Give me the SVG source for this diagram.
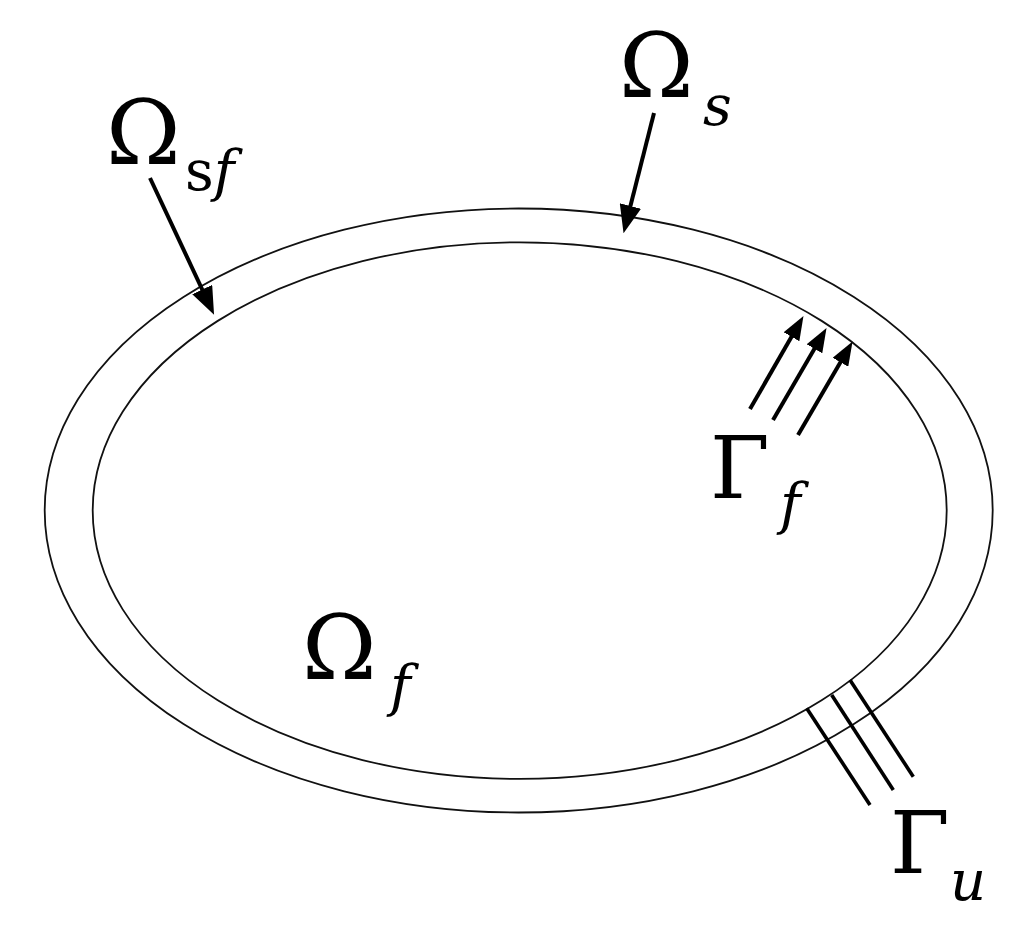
<svg xmlns="http://www.w3.org/2000/svg" width="1033" height="931" viewBox="0 0 1033 931">
<style>
.bnd{fill:none;stroke:#111;stroke-width:1.8}
.arr{stroke:#000;stroke-width:4;fill:none}
.hatch{stroke:#000;stroke-width:3.6;fill:none}
.lbl{font-family:'DejaVu Serif',serif;fill:#000}
.it{font-style:italic}
</style>
<defs>
<marker id="ah" viewBox="0 0 28 22" refX="16" refY="11" markerWidth="28" markerHeight="22" markerUnits="userSpaceOnUse" orient="auto">
<path d="M0,0 L28,11 L0,22 z" fill="#000"/>
</marker>
<marker id="ah2" viewBox="0 0 24 18" refX="13" refY="9" markerWidth="24" markerHeight="18" markerUnits="userSpaceOnUse" orient="auto">
<path d="M0,0 L24,9 L0,18 z" fill="#000"/>
</marker>
</defs>
<rect width="1033" height="931" fill="#fff"/>
<g id="omega_s_domain">
<ellipse class="bnd" cx="518.7" cy="510.5" rx="474" ry="302"/>
</g>
<g id="omega_f_domain">
<ellipse class="bnd" cx="519.7" cy="510.6" rx="427" ry="268.3"/>
</g>
<g id="connectors">
<line class="arr" x1="150" y1="178" x2="209" y2="304" marker-end="url(#ah)"/>
<line class="arr" x1="654" y1="113" x2="626.5" y2="221.5" marker-end="url(#ah)"/>
<line class="arr" x1="750" y1="409" x2="798" y2="325.5" marker-end="url(#ah2)"/>
<line class="arr" x1="773" y1="420" x2="821" y2="337.5" marker-end="url(#ah2)"/>
<line class="arr" x1="798" y1="435" x2="847" y2="351" marker-end="url(#ah2)"/>
<line class="hatch" x1="806.7" y1="708.3" x2="870" y2="805"/>
<line class="hatch" x1="831.7" y1="695" x2="893.3" y2="790"/>
<line class="hatch" x1="850" y1="680" x2="913.3" y2="776.7"/>
</g>
<g id="label_omega_sf" class="lbl">
<text x="106" y="164" font-size="90">Ω</text>
<text x="185" y="190" font-size="56">s<tspan class="it">f</tspan></text>
</g>
<g id="label_omega_s" class="lbl">
<text x="619" y="97" font-size="90">Ω</text>
<text class="it" x="703" y="125" font-size="56">s</text>
</g>
<g id="label_gamma_f" class="lbl">
<text x="710" y="498" font-size="86">Γ</text>
<text class="it" x="780" y="523" font-size="56">f</text>
</g>
<g id="label_gamma_u" class="lbl">
<text x="890" y="873" font-size="86">Γ</text>
<text class="it" x="950" y="900" font-size="56">u</text>
</g>
<g id="label_omega_f" class="lbl">
<text x="302" y="679" font-size="90">Ω</text>
<text class="it" x="390" y="705" font-size="56">f</text>
</g>
</svg>
